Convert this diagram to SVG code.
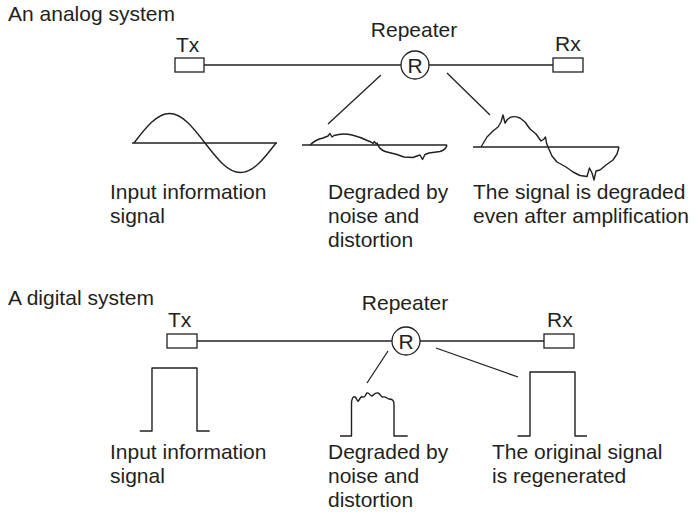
<svg xmlns="http://www.w3.org/2000/svg" width="698" height="517" viewBox="0 0 698 517">
  <style>
    text { font-family: "Liberation Sans", Arial, sans-serif; font-size: 21px; fill: #231f20; }
    .ln { fill: none; stroke: #231f20; stroke-width: 1.3; }
    .box { fill: #ffffff; stroke: #231f20; stroke-width: 1.3; }
    .wave { fill: none; stroke: #231f20; stroke-width: 1.4; stroke-linejoin: round; }
    .rc { fill: #ffffff; stroke: #231f20; stroke-width: 1.3; }
    .rl { text-anchor: middle; }
  </style>
  <rect width="698" height="517" fill="#ffffff"/>

  <!-- Analog system -->
  <text id="analog-title" x="8" y="21">An analog system</text>

  <g id="analog-links">
    <line class="ln" x1="204" y1="65" x2="401" y2="65"/>
    <line class="ln" x1="429" y1="65" x2="553" y2="65"/>
    <line class="ln" x1="381" y1="75" x2="328" y2="124"/>
    <line class="ln" x1="447" y1="73" x2="490" y2="115"/>
  </g>

  <g id="analog-tx">
    <text x="176" y="52">Tx</text>
    <rect class="box" x="175" y="58" width="29" height="14"/>
  </g>
  <g id="analog-repeater">
    <text class="rl" x="414" y="37">Repeater</text>
    <circle class="rc" cx="415" cy="65" r="14"/>
    <text class="rl" x="415" y="72.5">R</text>
  </g>
  <g id="analog-rx">
    <text x="555" y="51">Rx</text>
    <rect class="box" x="553" y="58" width="30" height="14"/>
  </g>

  <g id="analog-input">
    <line class="ln" x1="132" y1="143" x2="277" y2="143"/>
    <path class="wave" d="M134,143 C145.6,127.9 156.7,113.5 169.5,113.5 C182.4,113.5 193.4,127.9 205,143 C216.6,158.1 227.7,172.5 240.5,172.5 C253.4,172.5 264.4,158.1 276,143"/>
    <text x="110" y="199">Input information</text>
    <text x="110" y="223">signal</text>
  </g>

  <g id="analog-degraded">
    <line class="ln" x1="302" y1="145" x2="447" y2="145"/>
    <path class="wave" d="M310,145 C314,141 318,139 323,138 L328,136 L330,133.5 L332,137 L334,135.5 C340,133.5 346,133.5 352,135 C358,136.5 362,138 366,140 L371,142 L373,143.5 L374.5,141.5 L376,144 L377,143 L379,147 C381,150 383,151 387,152 L397,154.5 L404,157 L413,157.5 L417,156 L420,155 L422.5,159.5 L425,154.5 L429,153 L440,151.5 C444,150.5 446,149 447,145"/>
    <text x="328" y="199">Degraded by</text>
    <text x="328" y="223">noise and</text>
    <text x="328" y="247">distortion</text>
  </g>

  <g id="analog-amplified">
    <line class="ln" x1="473" y1="147" x2="619" y2="147"/>
    <path class="wave" d="M481,147 L487,137 L493,131 L498,127 L501,122 L503,115 L505,123 L507,120 C510,116 515,116 520,118 L525,122 L530,129 L536,134 L541,141 L544,139 L545.5,137 L546.5,143 L548,147 L552,156 L557,162 L566,167 L573,172 L580,175.5 L587,176.5 L589.5,168 L592,173 L594,180 L596,171 L600,170 L606,165 L613,160 L617,154 L619,147"/>
    <text x="473" y="199">The signal is degraded</text>
    <text x="473" y="223">even after amplification</text>
  </g>

  <!-- Digital system -->
  <text id="digital-title" x="8" y="305">A digital system</text>

  <g id="digital-links">
    <line class="ln" x1="197" y1="341" x2="392" y2="341"/>
    <line class="ln" x1="420" y1="341" x2="544" y2="341"/>
    <line class="ln" x1="388" y1="351" x2="367" y2="383"/>
    <line class="ln" x1="436" y1="348" x2="518" y2="377"/>
  </g>

  <g id="digital-tx">
    <text x="168" y="327">Tx</text>
    <rect class="box" x="167" y="334" width="30" height="14"/>
  </g>
  <g id="digital-repeater">
    <text class="rl" x="405" y="310">Repeater</text>
    <circle class="rc" cx="406" cy="341" r="14"/>
    <text class="rl" x="406" y="348.5">R</text>
  </g>
  <g id="digital-rx">
    <text x="547" y="327">Rx</text>
    <rect class="box" x="544" y="334" width="30" height="14"/>
  </g>

  <g id="digital-input">
    <path class="wave" d="M139.8,431 H152 V368 H197 V431 H209.7"/>
    <text x="110" y="459">Input information</text>
    <text x="110" y="483">signal</text>
  </g>

  <g id="digital-degraded">
    <path class="wave" d="M340,436 H351.5 V404 C351.5,399 353,396 355,397 C357,398 357,402 358.5,401 C360,398 361,396 363,397 C365,398 365,395 367,393 C369,392 370,396 372,396 C374,395 375,392 378,393 C381,394 381,398 383,397 C386,396 387,399 389,399 C392,399 394,401 394,404 V436 H407.7"/>
    <text x="328" y="459">Degraded by</text>
    <text x="328" y="483">noise and</text>
    <text x="328" y="507">distortion</text>
  </g>

  <g id="digital-regenerated">
    <path class="wave" d="M517.5,436 H530 V372 H575 V436 H587"/>
    <text x="492" y="459">The original signal</text>
    <text x="492" y="483">is regenerated</text>
  </g>
</svg>
